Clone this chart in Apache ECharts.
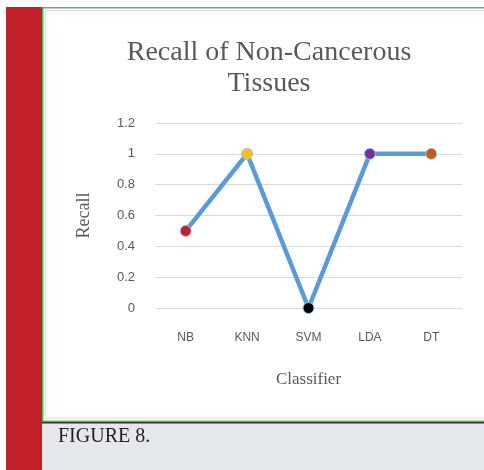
<!DOCTYPE html>
<html>
<head>
<meta charset="utf-8">
<script src="https://cdn.jsdelivr.net/npm/echarts@6/dist/echarts.min.js"></script>
<style>
  html, body { margin: 0; padding: 0; background: #fff; }
  #chart { width: 484px; height: 470px; }
</style>
</head>
<body>
<div id="chart"></div>
<script>
// data
var classifiers = ["NB", "KNN", "SVM", "LDA", "DT"];
var recall = [0.5, 1, 0, 1, 1];
var yTicks = { min: 0, max: 1.2, step: 0.2 };

// marker colours per classifier (style, not data)
var markerColors = ["#c0202a", "#ffc000", "#000000", "#7030a0", "#c55a11"];

var chart = echarts.init(document.getElementById("chart"));

chart.setOption({
  backgroundColor: "#ffffff",
  animation: false,
  title: {
    text: "Recall of Non-Cancerous\nTissues",
    left: 264,
    top: 32,
    textAlign: "center",
    textStyle: {
      fontFamily: "Liberation Serif",
      fontSize: 28,
      fontWeight: "normal",
      color: "#595959",
      lineHeight: 31
    }
  },
  grid: { left: 155, right: 22, top: 123, bottom: 162, containLabel: false },
  xAxis: {
    type: "category",
    data: classifiers,
    name: "Classifier",
    nameLocation: "middle",
    nameGap: 63,
    nameTextStyle: { fontFamily: "Liberation Serif", fontSize: 17, color: "#595959" },
    axisLine: { show: false },
    axisTick: { show: false },
    axisLabel: { fontFamily: "Liberation Sans", fontSize: 12, color: "#595959", margin: 24 }
  },
  yAxis: {
    type: "value",
    min: yTicks.min,
    max: yTicks.max,
    interval: yTicks.step,
    name: "Recall",
    nameLocation: "middle",
    nameGap: 62,
    nameTextStyle: { fontFamily: "Liberation Serif", fontSize: 18, color: "#595959" },
    axisLine: { show: false },
    axisTick: { show: false },
    axisLabel: { fontFamily: "Liberation Sans", fontSize: 13, color: "#595959", margin: 20 },
    splitLine: { lineStyle: { color: "#d9d9d9", width: 1 } }
  },
  series: [{
    type: "line",
    data: recall.map(function (v, i) {
      return { value: v, itemStyle: { color: markerColors[i] } };
    }),
    symbol: "circle",
    symbolSize: 11,
    lineStyle: { color: "#5b9bd5", width: 4.5 },
    itemStyle: { borderColor: "#9dc3e6", borderWidth: 1 }
  }],
  graphic: [
    // red side bar
    { type: "rect", shape: { x: 6, y: 7, width: 36, height: 463 }, style: { fill: "#c1202b" }, silent: true },
    // green frame
    { type: "rect", shape: { x: 42, y: 7, width: 1.5, height: 415 }, style: { fill: "#4cbb4c" }, silent: true },
    { type: "rect", shape: { x: 42, y: 7, width: 442, height: 1.5 }, style: { fill: "#4cbb4c" }, silent: true },
    { type: "rect", shape: { x: 42, y: 420.5, width: 442, height: 1.5 }, style: { fill: "#4cbb4c" }, silent: true },
    // inner grey frame
    { type: "rect", shape: { x: 45, y: 10, width: 1, height: 408 }, style: { fill: "#dedede" }, silent: true },
    { type: "rect", shape: { x: 45, y: 10, width: 439, height: 1 }, style: { fill: "#dedede" }, silent: true },
    { type: "rect", shape: { x: 45, y: 417.5, width: 439, height: 1 }, style: { fill: "#dedede" }, silent: true },
    // caption box
    { type: "rect", shape: { x: 42, y: 422, width: 442, height: 48 }, style: { fill: "#e6e7e8" }, silent: true },
    { type: "rect", shape: { x: 42, y: 422, width: 442, height: 1.5 }, style: { fill: "#333333" }, silent: true },
    {
      type: "text", left: 58, top: 427,
      style: { text: "FIGURE 8.", fill: "#231f20", font: "20px 'Liberation Serif'" },
      silent: true
    }
  ]
});

window.addEventListener("resize", function () {
  chart.resize();
});
</script>
</body>
</html>
